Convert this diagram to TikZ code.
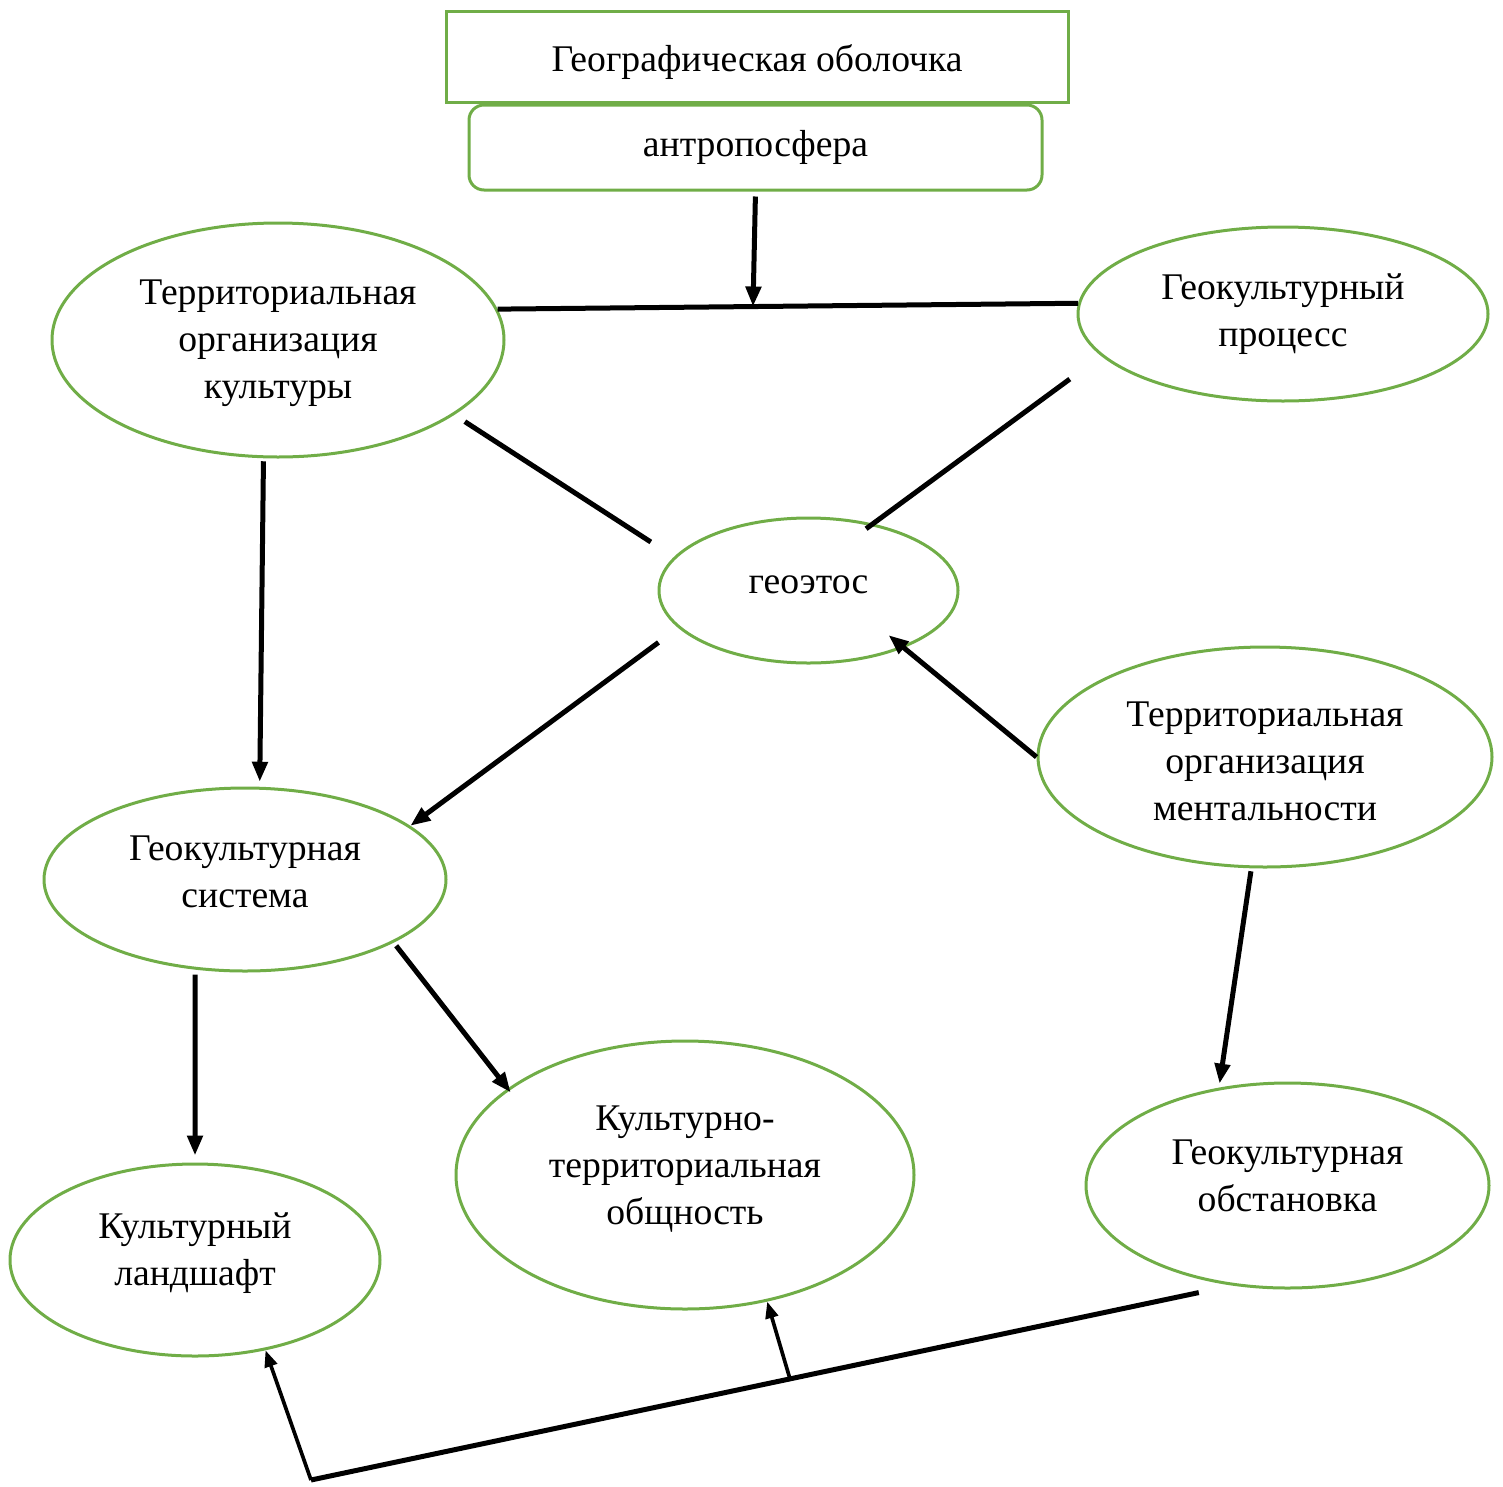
\documentclass[tikz,border=0pt]{standalone}
\usepackage{fontspec}
\setmainfont{Liberation Serif}
\usetikzlibrary{shapes.geometric,arrows.meta}
\definecolor{leafgreen}{RGB}{112,173,71}

\begin{document}
\begin{tikzpicture}[x=0.3pt,y=0.3pt,yscale=-1,
  every node/.style={font=\fontsize{11.3}{14.1}\selectfont, align=center, inner sep=0pt},
  bubble/.style={ellipse, draw=leafgreen, line width=0.9pt},
  link/.style={line width=1.5pt},
  flow/.style={line width=1.5pt, -{Triangle[length=6pt,width=4.5pt]}},
  thinflow/.style={line width=1.1pt, -{Triangle[length=5pt,width=3.8pt]}}]
  \useasboundingbox (0,0) rectangle (1503,1486);

  % top boxes
  \node[draw=leafgreen, line width=0.9pt, minimum width=186.6pt, minimum height=27.3pt,
    label={[name=shelltext, yshift=-1.8pt]center:Географическая оболочка}] (shell) at (757,56.5) {};
  \node[draw=leafgreen, line width=0.9pt, rounded corners=4.5pt, minimum width=171.9pt, minimum height=25.5pt] (antro) at (755.5,147.5) {антропосфера};

  % ellipses
  \node[bubble, minimum width=135.6pt, minimum height=70.2pt,
    label={[name=terrculttext, yshift=-0.9pt]center:{Территориальная\\организация\\культуры}}] (terrcult) at (278,340) {};
  \node[bubble, minimum width=123pt, minimum height=52.2pt] (proc) at (1283,314) {Геокультурный\\процесс};
  \node[bubble, minimum width=89.7pt, minimum height=43.5pt,
    label={[name=ethostext, yshift=1.8pt]center:геоэтос}] (ethos) at (808.5,590.5) {};
  \node[bubble, minimum width=136.2pt, minimum height=66pt,
    label={[name=terrmenttext, yshift=-1.2pt]center:{Территориальная\\организация\\ментальности}}] (terrment) at (1265,757) {};
  \node[bubble, minimum width=120.6pt, minimum height=54.9pt,
    label={[name=systemtext, yshift=2.2pt]center:{Геокультурная\\система}}] (system) at (245,879.5) {};
  \node[bubble, minimum width=111pt, minimum height=57.6pt,
    label={[name=landsctext, yshift=2.1pt]center:{Культурный\\ландшафт}}] (landsc) at (195,1260) {};
  \node[bubble, minimum width=137.4pt, minimum height=80.4pt,
    label={[name=communtext, yshift=1.8pt]center:{Культурно-\\территориальная\\общность}}] (commun) at (685,1175) {};
  \node[bubble, minimum width=120.9pt, minimum height=61.5pt,
    label={[name=settingtext, yshift=2.9pt]center:{Геокультурная\\обстановка}}] (setting) at (1287.5,1185.5) {};

  % connectors
  \draw[link] (terrcult.8.6) -- coordinate[pos=0.44] (joinA) (proc.177);
  \draw[flow, shorten <=1.5pt] (antro.south) -- (joinA);
  \draw[link, shorten <=3.75pt, shorten >=8.25pt] (terrcult.-23.6) -- (ethos.166);
  \draw[link, shorten <=11.7pt, shorten >=-2.6pt] (proc.193.2) -- (ethos.46);
  \draw[flow, shorten <=7.35pt] (ethos.196) -- (system.18);
  \draw[flow, shorten >=-6pt] (terrment.west) -- (ethos.-31.6);
  \draw[flow, shorten <=0.9pt, shorten >=1.5pt] (terrcult.-97) -- (system.81);
  \draw[flow, shorten <=1.5pt, shorten >=2.1pt] (system.-119) -- (landsc.north);
  \draw[flow, shorten <=1.2pt, shorten >=-1.5pt] (system.-23.5) -- (commun.154);
  \draw[flow, shorten <=0.9pt, shorten >=1.2pt] (terrment.-97) -- (setting.125);

  % bottom distribution line
  \coordinate (bend) at (311,1480);
  \draw[link, shorten <=10.2pt] (setting.-119.7) -- coordinate[pos=0.48] (split) (bend);
  \draw[thinflow] (split) -- (commun.-57);
  \draw[thinflow] (bend) -- (landsc.-52);
\end{tikzpicture}
\end{document}
